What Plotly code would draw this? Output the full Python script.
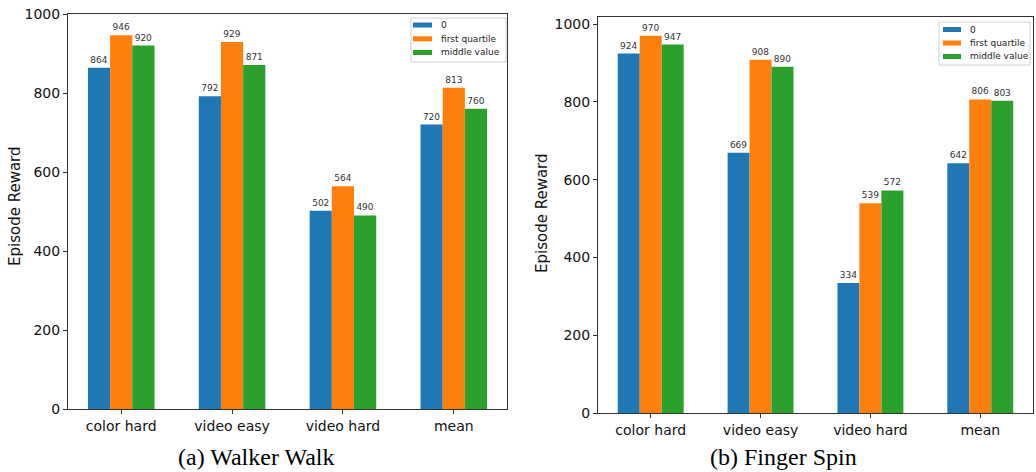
import plotly.graph_objects as go

categories = ["color hard", "video easy", "video hard", "mean"]
series_names = ["0", "first quartile", "middle value"]
walker_zero = [864, 792, 502, 720]
walker_q1 = [946, 929, 564, 813]
walker_mid = [920, 871, 490, 760]
finger_zero = [924, 669, 334, 642]
finger_q1 = [970, 908, 539, 806]
finger_mid = [947, 890, 572, 803]
y_ticks = [0, 200, 400, 600, 800, 1000]
panel_titles = ["(a) Walker Walk", "(b) Finger Spin"]
y_title = "Episode Reward"

colors = ["#1f77b4", "#ff7f0e", "#2ca02c"]
W, H = 1036, 472

def px_x(a, b):
    return [a / W, b / W]

def px_y(top, bottom):
    return [1 - bottom / H, 1 - top / H]

fig = go.Figure()
left_data = [walker_zero, walker_q1, walker_mid]
right_data = [finger_zero, finger_q1, finger_mid]
for i, (name, vals) in enumerate(zip(series_names, left_data)):
    fig.add_trace(go.Bar(
        x=categories, y=vals, name=name, marker=dict(color=colors[i], line=dict(width=0)),
        text=[str(v) for v in vals], textposition="outside", cliponaxis=False,
        textfont=dict(size=9, color="#333", family="DejaVu Sans"),
        xaxis="x", yaxis="y", showlegend=False))
for i, (name, vals) in enumerate(zip(series_names, right_data)):
    fig.add_trace(go.Bar(
        x=categories, y=vals, name=name, marker=dict(color=colors[i], line=dict(width=0)),
        text=[str(v) for v in vals], textposition="outside", cliponaxis=False,
        textfont=dict(size=9, color="#333", family="DejaVu Sans"),
        xaxis="x2", yaxis="y2", showlegend=False))

axis_common = dict(showline=True, mirror=True, linecolor="#333", linewidth=1,
                   ticks="outside", ticklen=4, tickcolor="#333", showgrid=False,
                   zeroline=False, automargin=False,
                   tickfont=dict(family="DejaVu Sans", size=14, color="#111"))

# manual matplotlib-style legends (pixel geometry)
shapes = []
annotations = []
legend_specs = [
    dict(box=(411, 18, 506, 62), patch_x=(413, 432), text_x=439, rows=[25, 38.8, 52.5]),
    dict(box=(939, 22, 1030, 65), patch_x=(943, 961), text_x=968, rows=[29.5, 43, 56.5]),
]
for spec in legend_specs:
    x0, y0, x1, y1 = spec["box"]
    shapes.append(dict(type="rect", xref="paper", yref="paper",
                       x0=x0 / W, x1=x1 / W, y0=1 - y1 / H, y1=1 - y0 / H,
                       fillcolor="rgba(255,255,255,0.85)", line=dict(color="#d0d0d0", width=1)))
    for i, name in enumerate(series_names):
        cy = spec["rows"][i]
        shapes.append(dict(type="rect", xref="paper", yref="paper",
                           x0=spec["patch_x"][0] / W, x1=spec["patch_x"][1] / W,
                           y0=1 - (cy + 2.5) / H, y1=1 - (cy - 2.5) / H,
                           fillcolor=colors[i], line=dict(width=0)))
        annotations.append(dict(text=name, x=spec["text_x"] / W, y=1 - cy / H,
                                xref="paper", yref="paper", xanchor="left", yanchor="middle",
                                showarrow=False,
                                font=dict(family="DejaVu Sans", size=9, color="#222")))

annotations += [
    dict(text=panel_titles[0], x=256 / W, y=1 - 457 / H, xref="paper", yref="paper",
         xanchor="center", yanchor="middle", borderpad=0,
         showarrow=False, font=dict(family="Liberation Serif", size=24, color="black")),
    dict(text=panel_titles[1], x=783 / W, y=1 - 457 / H, xref="paper", yref="paper",
         xanchor="center", yanchor="middle", borderpad=0,
         showarrow=False, font=dict(family="Liberation Serif", size=24, color="black")),
    dict(text=y_title, x=15 / W, y=1 - 206 / H, xref="paper", yref="paper", textangle=-90,
         xanchor="center", yanchor="middle",
         showarrow=False, font=dict(family="DejaVu Sans", size=15, color="#111")),
    dict(text=y_title, x=542 / W, y=1 - 213 / H, xref="paper", yref="paper", textangle=-90,
         xanchor="center", yanchor="middle",
         showarrow=False, font=dict(family="DejaVu Sans", size=15, color="#111")),
]

fig.update_layout(
    width=W, height=H, margin=dict(l=0, r=0, t=0, b=0),
    paper_bgcolor="white", plot_bgcolor="white",
    barmode="group", bargap=0.4, bargroupgap=0,
    uniformtext=dict(minsize=8, mode="show"),
    xaxis=dict(domain=px_x(68, 507), anchor="y", range=[-0.48, 3.48], **axis_common),
    yaxis=dict(domain=px_y(14, 409), anchor="x", range=[0, 1000], tickvals=y_ticks, **axis_common),
    xaxis2=dict(domain=px_x(598, 1033), anchor="y2", range=[-0.48, 3.48], **axis_common),
    yaxis2=dict(domain=px_y(17, 413), anchor="x2", range=[0, 1018], tickvals=y_ticks, **axis_common),
    showlegend=False,
    shapes=shapes,
    annotations=annotations,
)

fig.write_html("out.html", config={"displayModeBar": False},
               post_script="document.body.style.margin='0';document.body.style.overflow='hidden';")
